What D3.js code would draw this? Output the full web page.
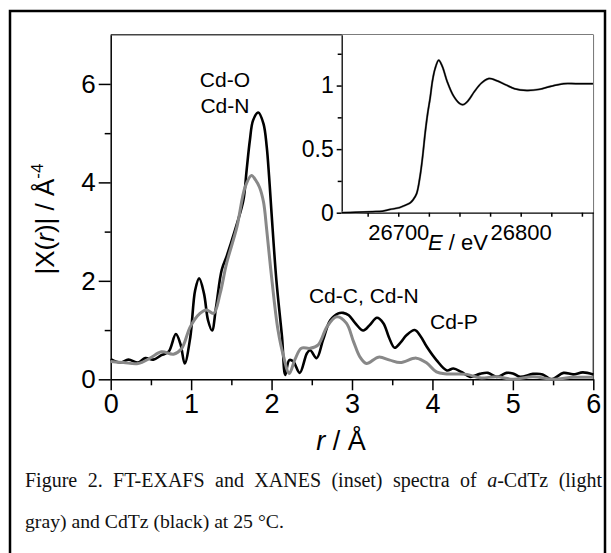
<!DOCTYPE html>
<html>
<head>
<meta charset="utf-8">
<script src="https://cdn.jsdelivr.net/npm/d3@7"></script>
<style>
html,body{margin:0;padding:0;background:#fff;}
svg{display:block;}
</style>
</head>
<body>
<script>
// ---------- data ----------
const blackR = [0, 0.12, 0.22, 0.34, 0.43, 0.53, 0.63, 0.72, 0.81, 0.87, 0.92, 0.99, 1.05, 1.10, 1.16, 1.21, 1.26, 1.31, 1.38, 1.44, 1.48, 1.57, 1.65, 1.69, 1.73, 1.77, 1.835, 1.90, 1.94, 1.97, 2.00, 2.06, 2.13, 2.17, 2.22, 2.27, 2.35, 2.44, 2.48, 2.56, 2.64, 2.73, 2.83, 2.89, 2.96, 3.04, 3.14, 3.22, 3.31, 3.39, 3.46, 3.53, 3.60, 3.68, 3.78, 3.85, 3.93, 4.05, 4.18, 4.26, 4.36, 4.47, 4.59, 4.69, 4.80, 4.92, 5.00, 5.09, 5.25, 5.37, 5.48, 5.63, 5.75, 5.87, 6.00];
const blackChi = [0.41, 0.34, 0.40, 0.34, 0.43, 0.40, 0.49, 0.56, 0.92, 0.70, 0.32, 0.86, 1.81, 2.05, 1.74, 1.20, 0.99, 1.47, 2.22, 2.49, 2.69, 3.16, 3.64, 4.25, 4.85, 5.26, 5.42, 5.19, 4.72, 4.10, 3.37, 2.01, 0.86, 0.09, 0.39, 0.36, 0.13, 0.53, 0.59, 0.43, 0.80, 1.20, 1.34, 1.35, 1.30, 1.14, 0.99, 1.10, 1.25, 1.14, 0.85, 0.64, 0.74, 0.90, 1.00, 0.88, 0.66, 0.39, 0.18, 0.22, 0.15, 0.05, 0.11, 0.13, 0.05, 0.13, 0.12, 0.05, 0.11, 0.10, 0.00, 0.13, 0.10, 0.14, 0.10];

const grayR = [0, 0.16, 0.34, 0.49, 0.63, 0.78, 0.88, 0.99, 1.11, 1.19, 1.28, 1.36, 1.44, 1.57, 1.67, 1.75, 1.80, 1.85, 1.90, 1.94, 2.00, 2.08, 2.15, 2.22, 2.29, 2.37, 2.48, 2.58, 2.69, 2.81, 2.93, 3.02, 3.10, 3.18, 3.33, 3.47, 3.60, 3.80, 3.93, 4.05, 4.18, 4.43, 4.59, 4.80, 5.00, 5.25, 5.50, 5.75, 6.00];
const grayChi = [0.36, 0.34, 0.32, 0.43, 0.56, 0.51, 0.62, 1.07, 1.34, 1.41, 1.34, 1.74, 2.35, 3.10, 3.90, 4.14, 4.05, 3.90, 3.60, 3.03, 2.08, 1.00, 0.46, 0.12, 0.40, 0.63, 0.63, 0.70, 1.07, 1.27, 1.14, 0.76, 0.45, 0.32, 0.45, 0.39, 0.34, 0.43, 0.33, 0.15, 0.11, 0.10, 0.03, 0.05, 0.00, 0.05, 0.00, 0.04, 0.04];

const xanesE = [26654, 26665, 26679, 26687, 26693, 26701, 26706, 26710, 26712, 26715, 26718, 26720, 26722, 26724, 26726, 26728, 26730, 26733, 26736, 26740, 26745, 26750, 26753, 26757, 26762, 26768, 26774, 26780, 26788, 26795, 26805, 26815, 26825, 26835, 26845, 26859];
const xanesMu = [0.0, 0.003, 0.008, 0.012, 0.025, 0.04, 0.06, 0.08, 0.10, 0.15, 0.30, 0.45, 0.63, 0.78, 0.90, 1.04, 1.13, 1.20, 1.15, 1.03, 0.92, 0.86, 0.85, 0.88, 0.95, 1.02, 1.055, 1.04, 1.005, 0.975, 0.962, 0.97, 0.995, 1.015, 1.015, 1.015];

const mainXTicks = [0, 1, 2, 3, 4, 5, 6];
const mainXMinor = [0.5, 1.5, 2.5, 3.5, 4.5, 5.5];
const mainYTicks = [0, 2, 4, 6];
const mainYMinor = [1, 3, 5];
const insetXTicks = [26675, 26700, 26725, 26750, 26775, 26800, 26825, 26850];
const insetXLabels = [26700, 26800];
const insetYTicks = [0, 0.5, 1];
const insetYMinor = [0.25, 0.75, 1.25];

const annotations = ["Cd-O", "Cd-N", "Cd-C, Cd-N", "Cd-P"];
const captionLine1 = ["Figure 2. FT-EXAFS and XANES (inset) spectra of ", "a", "-CdTz (light"];
const captionLine2 = "gray) and CdTz (black) at 25 °C.";

// ---------- drawing ----------
const W = 611, H = 553;
const svg = d3.select("body").append("svg").attr("width", W).attr("height", H);
svg.append("rect").attr("width", W).attr("height", H).attr("fill", "#fff");

const sans = "'Liberation Sans', Arial, sans-serif";
const serif = "'Liberation Serif', 'Times New Roman', serif";

// outer frame
svg.append("rect").attr("x", 10).attr("y", 11).attr("width", 595).attr("height", 600)
  .attr("fill", "none").attr("stroke", "#000").attr("stroke-width", 2.5);

const x = d3.scaleLinear().domain([0, 6]).range([110.7, 593.3]);
const y = d3.scaleLinear().domain([0, 7]).range([379.3, 34.7]);

// frame top/right
svg.append("line").attr("x1", x(0)).attr("x2", x(6)).attr("y1", y(7)).attr("y2", y(7))
  .attr("stroke", "#444").attr("stroke-width", 1.5);
svg.append("line").attr("x1", x(6)).attr("x2", x(6)).attr("y1", y(7)).attr("y2", y(0))
  .attr("stroke", "#444").attr("stroke-width", 1.5);

function styleAxis(g, fs) {
  g.selectAll("path.domain").attr("stroke", "#000").attr("stroke-width", 1.5);
  g.selectAll(".tick line").attr("stroke", "#000").attr("stroke-width", 1.5);
  g.selectAll(".tick text").attr("font-family", sans).attr("font-size", fs).attr("fill", "#000");
}

const gx = svg.append("g").attr("transform", `translate(0,${y(0)})`)
  .call(d3.axisBottom(x).tickValues(mainXTicks).tickSize(11).tickSizeOuter(0).tickPadding(4).tickFormat(d3.format("d")));
styleAxis(gx, 27);
const gxm = svg.append("g").attr("transform", `translate(0,${y(0)})`)
  .call(d3.axisBottom(x).tickValues(mainXMinor).tickSize(6).tickFormat(""));
styleAxis(gxm, 27);
gxm.select("path.domain").remove();

const gy = svg.append("g").attr("transform", `translate(${x(0)},0)`)
  .call(d3.axisLeft(y).tickValues(mainYTicks).tickSize(12).tickSizeOuter(0).tickPadding(3).tickFormat(d3.format("d")));
styleAxis(gy, 26);
const gym = svg.append("g").attr("transform", `translate(${x(0)},0)`)
  .call(d3.axisLeft(y).tickValues(mainYMinor).tickSize(6).tickFormat(""));
styleAxis(gym, 26);
gym.select("path.domain").remove();

// main curves
const line = d3.line().x(d => x(d[0])).y(d => y(d[1])).curve(d3.curveCatmullRom.alpha(0.5));
svg.append("path").datum(blackR.map((r, i) => [r, blackChi[i]])).attr("d", line)
  .attr("fill", "none").attr("stroke", "#000").attr("stroke-width", 2.6).attr("stroke-linejoin", "round");
svg.append("path").datum(grayR.map((r, i) => [r, grayChi[i]])).attr("d", line)
  .attr("fill", "none").attr("stroke", "#888").attr("stroke-width", 3).attr("stroke-linejoin", "round");

// annotations
const ann = svg.append("g").attr("font-family", sans).attr("font-size", 21).attr("fill", "#000");
ann.append("text").attr("x", x(1.42)).attr("y", y(5.93)).attr("text-anchor", "middle").text(annotations[0]);
ann.append("text").attr("x", x(1.42)).attr("y", y(5.41)).attr("text-anchor", "middle").text(annotations[1]);
ann.append("text").attr("x", x(2.465)).attr("y", y(1.54)).text(annotations[2]);
ann.append("text").attr("x", x(3.97)).attr("y", y(1.03)).text(annotations[3]);

// axis titles
const yt = svg.append("text").attr("transform", "translate(54,219) rotate(-90)")
  .attr("text-anchor", "middle").attr("font-family", sans).attr("font-size", 26).attr("fill", "#000");
yt.append("tspan").text("|Χ(");
yt.append("tspan").attr("font-style", "italic").text("r");
yt.append("tspan").text(")| / Å");
yt.append("tspan").attr("font-size", 17).attr("dy", -11).text("-4");

const xt = svg.append("text").attr("x", 341).attr("y", 450).attr("text-anchor", "middle")
  .attr("font-family", sans).attr("font-size", 27).attr("fill", "#000");
xt.append("tspan").attr("font-style", "italic").text("r");
xt.append("tspan").text(" / Å");

// ---------- inset ----------
const xi = d3.scaleLinear().domain([26653.8, 26859.3]).range([341.7, 593.3]);
const yi = d3.scaleLinear().domain([0, 1.4]).range([212.7, 34.7]);

svg.append("rect").attr("x", xi.range()[0]).attr("y", yi(1.4)).attr("width", xi.range()[1] - xi.range()[0])
  .attr("height", yi(0) - yi(1.4)).attr("fill", "#fff");

const gix = svg.append("g").attr("transform", `translate(0,${yi(0)})`)
  .call(d3.axisBottom(xi).tickValues(insetXTicks).tickSize(4).tickSizeOuter(0).tickPadding(8)
    .tickFormat(d => insetXLabels.includes(d) ? String(d) : ""));
styleAxis(gix, 22);
gix.selectAll("path.domain").attr("stroke-width", 1.3);

const giy = svg.append("g").attr("transform", `translate(${xi.range()[0]},0)`)
  .call(d3.axisLeft(yi).tickValues(insetYTicks).tickSize(5).tickSizeOuter(0).tickPadding(3)
    .tickFormat(d => d === 0.5 ? "0.5" : String(d)));
styleAxis(giy, 23);
giy.selectAll("path.domain").attr("stroke-width", 1.3);
const giym = svg.append("g").attr("transform", `translate(${xi.range()[0]},0)`)
  .call(d3.axisLeft(yi).tickValues(insetYMinor).tickSize(4).tickFormat(""));
styleAxis(giym, 23);
giym.select("path.domain").remove();

const lineI = d3.line().x(d => xi(d[0])).y(d => yi(d[1])).curve(d3.curveCatmullRom.alpha(0.5));
svg.append("path").datum(xanesE.map((e, i) => [e, xanesMu[i]])).attr("d", lineI)
  .attr("fill", "none").attr("stroke", "#999").attr("stroke-width", 2.2);
svg.append("path").datum(xanesE.map((e, i) => [e, xanesMu[i]])).attr("d", lineI)
  .attr("fill", "none").attr("stroke", "#000").attr("stroke-width", 1.5);

const et = svg.append("text").attr("x", 458).attr("y", 250).attr("text-anchor", "middle")
  .attr("font-family", sans).attr("font-size", 22).attr("fill", "#000");
et.append("tspan").attr("font-style", "italic").text("E");
et.append("tspan").text(" / eV");

// ---------- caption ----------
const c1 = svg.append("text").attr("x", 25).attr("y", 487).attr("font-family", serif)
  .attr("font-size", 20).attr("fill", "#111");
c1.append("tspan").text(captionLine1[0]);
c1.append("tspan").attr("font-style", "italic").text(captionLine1[1]);
c1.append("tspan").text(captionLine1[2]);
const natural = c1.node().getComputedTextLength();
const spaces = (captionLine1.join("").match(/ /g) || []).length;
c1.attr("word-spacing", Math.max(0, (577 - natural) / spaces));

svg.append("text").attr("x", 25).attr("y", 528).attr("font-family", serif)
  .attr("font-size", 19.7).attr("fill", "#111").text(captionLine2);
</script>
</body>
</html>
